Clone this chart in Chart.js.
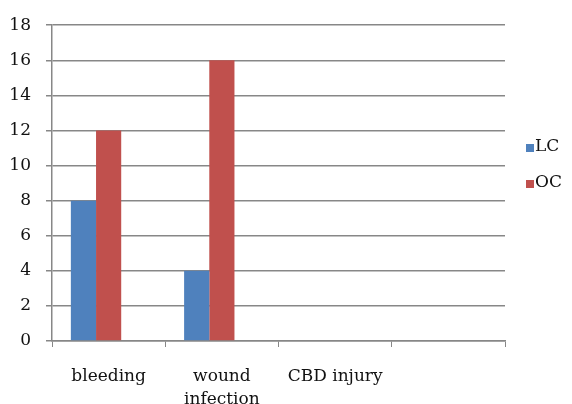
<!DOCTYPE html>
<html>
<head>
<meta charset="utf-8">
<script src="https://cdn.jsdelivr.net/npm/chart.js@4"></script>
<style>
  html, body { margin: 0; padding: 0; background: #fff; }
  #wrap { width: 572px; height: 404px; }
</style>
</head>
<body>
<div id="wrap"><canvas id="c" width="572" height="404"></canvas></div>
<script>
// Complications by surgical approach
const categories = ["bleeding", ["wound", "infection"], "CBD injury", ""];
const lcValues = [8, 4, 0, 0];
const ocValues = [12, 16, 0, 0];
const spareValues = [null, null, null, null];
const yTicks = [0, 2, 4, 6, 8, 10, 12, 14, 16, 18];

const FONT = "'DejaVu Serif', serif";
const TEXT = "#111111";
const GRID = "#878787";

// Legend drawn beside the plot: small square swatch followed by its label
const sideLegend = {
  id: "sideLegend",
  afterDraw(chart) {
    const ctx = chart.ctx;
    const items = chart.data.datasets.filter(d => d.label);
    ctx.save();
    ctx.font = "17px " + FONT;
    ctx.textBaseline = "middle";
    ctx.textAlign = "left";
    items.forEach((d, i) => {
      const y = 147 + i * 36;
      ctx.fillStyle = d.backgroundColor;
      ctx.fillRect(526, y - 3, 8, 8);
      ctx.fillStyle = TEXT;
      ctx.fillText(d.label, 535, y);
    });
    ctx.restore();
  }
};

new Chart(document.getElementById("c"), {
  type: "bar",
  data: {
    labels: categories,
    datasets: [
      { label: "LC", data: lcValues, backgroundColor: "#4F81BD" },
      { label: "OC", data: ocValues, backgroundColor: "#C0504D" },
      { label: "", data: spareValues, backgroundColor: "#9BBB59" }
    ]
  },
  options: {
    responsive: false,
    animation: false,
    devicePixelRatio: 1,
    layout: { padding: { top: 21, right: 67, left: 0, bottom: 0 } },
    datasets: { bar: { categoryPercentage: 0.667, barPercentage: 1.0, borderWidth: 0 } },
    plugins: { legend: { display: false }, tooltip: { enabled: false } },
    scales: {
      x: {
        offset: true,
        grid: { display: true, drawOnChartArea: false, drawTicks: true, tickLength: 6, color: GRID, offset: true },
        border: { display: true, color: GRID, width: 1.5 },
        ticks: { font: { family: FONT, size: 17, lineHeight: 1.35 }, color: TEXT, padding: 18, maxRotation: 0, autoSkip: false },
        afterFit(scale) { scale.height = 63; }
      },
      y: {
        min: 0,
        max: 18,
        afterBuildTicks(scale) { scale.ticks = yTicks.map(v => ({ value: v })); },
        grid: { color: GRID, lineWidth: 1.5, tickLength: 6 },
        border: { display: true, color: GRID, width: 1.5 },
        ticks: { font: { family: FONT, size: 17 }, color: TEXT, padding: 15 },
        afterFit(scale) { scale.width = 52; }
      }
    }
  },
  plugins: [sideLegend]
});
</script>
</body>
</html>
